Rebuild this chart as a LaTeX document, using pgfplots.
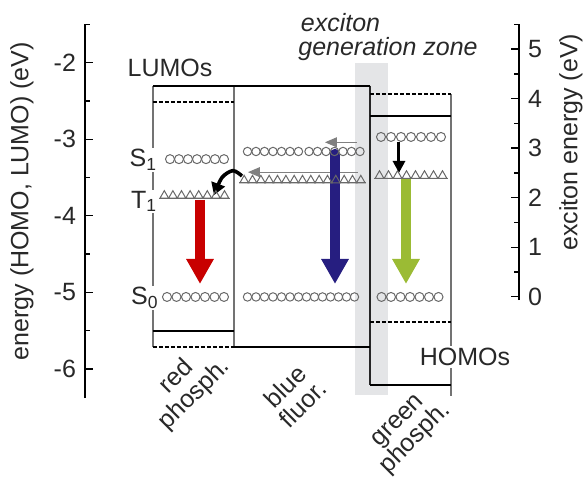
\documentclass[border=0pt]{standalone}
\usepackage{fontspec}
\setmainfont{Liberation Sans}
\usepackage{pgfplots}
\pgfplotsset{compat=1.18}
\usetikzlibrary{arrows.meta}
\definecolor{redarr}{RGB}{200,0,0}
\definecolor{bluearr}{RGB}{38,30,128}
\definecolor{greenarr}{RGB}{155,187,52}
\definecolor{mk}{RGB}{105,105,105}
\definecolor{edge}{RGB}{115,115,115}
\definecolor{band}{RGB}{228,229,231}
\definecolor{txt}{RGB}{40,40,40}
\newcommand{\fs}{\fontsize{12.5}{13.5}\selectfont}
\newcommand{\fst}{\fontsize{12.5}{12.5}\selectfont}
\begin{document}
\begin{tikzpicture}
\useasboundingbox (0,0) rectangle (292.5pt,239pt);
\begin{axis}[
  at={(42.5pt,40pt)}, anchor=south west,
  scale only axis, width=217pt, height=186.8pt,
  xmin=85, xmax=519, ymin=-6.38, ymax=-1.5,
  axis x line=none, axis y line*=left,
  clip=false,
  ytick={-6,-5,-4,-3,-2},
  minor ytick={-5.5,-4.5,-3.5,-2.5,-1.5},
  tick align=inside,
  major tick length=4pt, minor tick length=2.5pt,
  every tick/.style={black, line width=0.7pt},
  axis line style={black, line width=0.7pt},
  /pgf/number format/assume math mode=true,
  yticklabel style={font=\fs, text=txt, xshift=-1pt},
  font=\fs,
]
% exciton generation zone band
\addplot[fill=band, draw=none] coordinates {(355,-2.0) (388,-2.0) (388,-6.34) (355,-6.34)} --cycle;

% box edges
\addplot[edge, line width=0.7pt] coordinates {(153,-2.30) (153,-5.71)};
\addplot[edge, line width=0.7pt] coordinates {(234,-2.30) (234,-5.71)};
\addplot[black!85, line width=0.8pt] coordinates {(370,-2.30) (370,-6.21)};
\addplot[edge, line width=0.7pt] coordinates {(451,-2.41) (451,-6.36)};

% LUMO / HOMO levels
\addplot[black, line width=1pt] coordinates {(153,-2.30) (370,-2.30)};
\addplot[black, line width=0.9pt, dash pattern=on 1.8pt off 1.2pt] coordinates {(153,-2.51) (234,-2.51)};
\addplot[black, line width=1pt] coordinates {(153,-5.50) (234,-5.50)};
\addplot[black, line width=0.9pt, dash pattern=on 1.8pt off 1.2pt] coordinates {(153,-5.71) (234,-5.71)};
\addplot[black, line width=1.2pt] coordinates {(234,-5.71) (370,-5.71)};
\addplot[black, line width=0.9pt, dash pattern=on 1.8pt off 1.2pt] coordinates {(370,-2.41) (451,-2.41)};
\addplot[black, line width=1pt] coordinates {(370,-2.70) (451,-2.70)};
\addplot[black, line width=0.9pt, dash pattern=on 1.8pt off 1.2pt] coordinates {(370,-5.39) (451,-5.39)};
\addplot[black, line width=1pt] coordinates {(370,-6.21) (451,-6.21)};

% triplet baselines
\addplot[mk, line width=0.4pt] coordinates {(159,-3.77) (230,-3.77)};
\addplot[mk, line width=0.4pt] coordinates {(239,-3.57) (366,-3.57)};
\addplot[mk, line width=0.4pt] coordinates {(374,-3.51) (448,-3.51)};

% singlet circles
\addplot[only marks, mark=o, mark size=2.25pt, mark options={mk, line width=0.5pt}] coordinates {
 (170,-3.26) (179,-3.26) (188,-3.26) (197,-3.26) (206,-3.26) (215,-3.26) (224,-3.26)};
\addplot[only marks, mark=o, mark size=2.25pt, mark options={mk, line width=0.5pt}] coordinates {
 (167,-5.06) (176.5,-5.06) (186,-5.06) (195.5,-5.06) (205,-5.06) (214.5,-5.06) (224,-5.06)};
\addplot[only marks, mark=o, mark size=2.1pt, mark options={mk, line width=0.5pt}] coordinates {
 (247.5,-3.16) (256,-3.16) (264.5,-3.16) (273,-3.16) (281.5,-3.16) (290,-3.16) (298.5,-3.16)
 (309,-3.16) (317.5,-3.16) (326,-3.16) (334.5,-3.16) (343,-3.16) (351.5,-3.16) (360,-3.16)};
\addplot[only marks, mark=o, mark size=2.1pt, mark options={mk, line width=0.5pt}] coordinates {
 (247.5,-5.06) (256,-5.06) (264.5,-5.06) (273,-5.06) (281.5,-5.06) (290,-5.06) (298.5,-5.06)
 (306.5,-5.06) (314.5,-5.06) (322.5,-5.06) (330.5,-5.06) (338.5,-5.06) (346.5,-5.06) (354.5,-5.06)};
\addplot[only marks, mark=o, mark size=2.25pt, mark options={mk, line width=0.5pt}] coordinates {
 (381,-2.97) (391,-2.97) (401,-2.97) (411,-2.97) (421,-2.97) (431,-2.97) (441,-2.97)};
\addplot[only marks, mark=o, mark size=2.25pt, mark options={mk, line width=0.5pt}] coordinates {
 (381.5,-5.06) (391,-5.06) (400.5,-5.06) (410,-5.06) (419.5,-5.06) (429,-5.06) (438.5,-5.06)};

% triplet triangles
\addplot[only marks, mark=triangle, mark size=2.5pt, mark options={mk, line width=0.5pt}] coordinates {
 (164.3,-3.737) (172.9,-3.737) (181.5,-3.737) (190.1,-3.737) (198.7,-3.737) (207.3,-3.737) (215.9,-3.737) (224.5,-3.737)};
\addplot[only marks, mark=triangle, mark size=2.5pt, mark options={mk, line width=0.5pt}] coordinates {
 (244.2,-3.537) (252.5,-3.537) (260.9,-3.537) (269.2,-3.537) (277.5,-3.537) (285.9,-3.537) (294.2,-3.537) (302.5,-3.537)
 (310.8,-3.537) (319.2,-3.537) (327.5,-3.537) (335.8,-3.537) (344.2,-3.537) (352.5,-3.537) (360.8,-3.537)};
\addplot[only marks, mark=triangle, mark size=2.5pt, mark options={mk, line width=0.5pt}] coordinates {
 (379.5,-3.477) (388.5,-3.477) (397.5,-3.477) (406.5,-3.477) (415.5,-3.477) (424.5,-3.477) (433.5,-3.477) (442.5,-3.477)};

% gray transfer arrows
\addplot[gray, line width=0.5pt, -{Triangle[width=5pt,length=6pt]}] coordinates {(358,-3.43) (248,-3.43)};
\addplot[gray, line width=0.5pt, -{Triangle[width=5pt,length=6pt]}] coordinates {(357,-3.04) (325,-3.04)};

% emission arrows
\addplot[redarr, line width=5pt, -{Triangle[width=13pt,length=12.5pt]}] coordinates {(200,-3.79) (200,-4.89)};
\addplot[bluearr, line width=5pt, line cap=round, -{Triangle[width=13pt,length=12.5pt]}] coordinates {(335,-3.19) (335,-4.89)};
\addplot[greenarr, line width=5pt, -{Triangle[width=13pt,length=12.5pt]}] coordinates {(406,-3.52) (406,-4.89)};

% black arrows
\addplot[black, line width=1.8pt, smooth, -{Triangle[width=7pt,length=6pt]}] coordinates {(242,-3.48) (233,-3.41) (222,-3.50) (214,-3.73)};
\addplot[black, line width=1.5pt, -{Triangle[width=6pt,length=6pt]}] coordinates {(399,-3.03) (399,-3.44)};

% labels
\node[text=txt] at (axis cs:170,-2.07) {LUMOs};
\node[text=txt, fill=white, inner sep=1pt] at (axis cs:465,-5.84) {HOMOs};
\node[text=txt, anchor=base west, inner sep=0pt, font=\fs\itshape] at (axis cs:300.5,-1.595) {exciton};
\node[text=txt, anchor=base west, inner sep=0pt, font=\fs\itshape] at (axis cs:298,-1.90) {generation zone};
\node[text=txt, anchor=base east, fill=white, inner sep=0.5pt] at (axis cs:158.5,-3.36) {S\textsubscript{1}};
\node[text=txt, anchor=base east, fill=white, inner sep=0.5pt] at (axis cs:158.5,-3.90) {T\textsubscript{1}};
\node[text=txt, anchor=base east, fill=white, inner sep=0.5pt] at (axis cs:160,-5.16) {S\textsubscript{0}};
\node[text=txt, rotate=45, align=center, font=\fst] at (axis cs:186,-6.22) {red\\phosph.};
\node[text=txt, rotate=45, align=center, font=\fst] at (axis cs:294,-6.34) {blue\\fluor.};
\node[text=txt, rotate=45, align=center, font=\fst] at (axis cs:408,-6.81) {green\\phosph.};
\node[text=txt, rotate=90] at (axis cs:22,-3.81) {energy (HOMO, LUMO) (eV)};
\node[text=txt, rotate=90] at (axis cs:571,-3.04) {exciton energy (eV)};
\end{axis}
\begin{axis}[
  at={(42.5pt,88.9pt)}, anchor=south west,
  scale only axis, width=217pt, height=137.9pt,
  xmin=85, xmax=519, ymin=-0.07, ymax=5.5,
  axis x line=none, axis y line*=right,
  ytick={0,1,2,3,4,5},
  minor ytick={0.5,1.5,2.5,3.5,4.5,5.5},
  tick align=inside,
  major tick length=4pt, minor tick length=2.5pt,
  every tick/.style={black, line width=0.7pt},
  axis line style={black, line width=0.7pt},
  /pgf/number format/assume math mode=true,
  yticklabel style={font=\fs, text=txt, xshift=1pt},
]
\end{axis}
\end{tikzpicture}
\end{document}
